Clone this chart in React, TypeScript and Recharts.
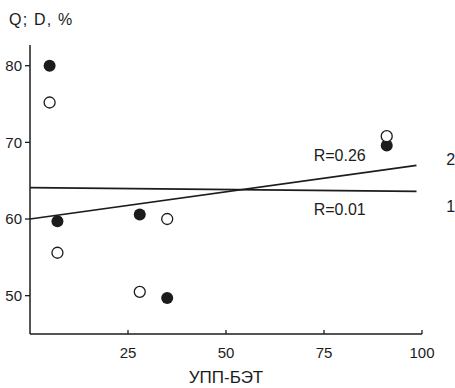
import React from "react";
import {
  ComposedChart,
  Scatter,
  XAxis,
  YAxis,
  ReferenceDot,
  Label,
} from "recharts";

// measured points (x = УПП-БЭТ, y = Q or D, %)
const xPoints = [5, 7, 28, 35, 91];
const yFilled = [80, 59.7, 60.6, 49.7, 69.6];
const yOpen = [75.2, 55.6, 50.5, 60.0, 70.8];

// regression lines: 1 (R=0.01) and 2 (R=0.26)
const lineX = [0, 98.6];
const line1Y = [64.1, 63.6];
const line2Y = [60.0, 67.0];

const xTicks = [25, 50, 75, 100];
const yTicks = [50, 60, 70, 80];

const annotations = [
  { text: "R=0.26", x: 79, y: 68.3 },
  { text: "R=0.01", x: 79, y: 61.2 },
  { text: "2", x: 107.3, y: 67.8 },
  { text: "1", x: 107.3, y: 61.7 },
];

const FONT = "'Liberation Sans', Arial, sans-serif";
const INK = "#1c1c1c";

const filledData = xPoints.map((x, i) => ({ x, y: yFilled[i] }));
const openData = xPoints.map((x, i) => ({ x, y: yOpen[i] }));
const line1Data = lineX.map((x, i) => ({ x, y: line1Y[i] }));
const line2Data = lineX.map((x, i) => ({ x, y: line2Y[i] }));

const XTick = (props: any) => {
  const { x, y, payload } = props;
  return (
    <g>
      <line x1={x} x2={x} y1={y} y2={y - 4} stroke={INK} strokeWidth={1.3} />
      <text
        x={x}
        y={y + 24}
        textAnchor="middle"
        fill={INK}
        fontSize={15}
        fontFamily={FONT}
      >
        {payload.value}
      </text>
    </g>
  );
};

const FilledDot = (props: any) => (
  <circle cx={props.cx} cy={props.cy} r={6} fill={INK} />
);

const OpenDot = (props: any) => (
  <circle
    cx={props.cx}
    cy={props.cy}
    r={5.5}
    fill="#fff"
    stroke={INK}
    strokeWidth={1.3}
  />
);

const NoDot = () => <g />;

export default function App() {
  return (
    <div
      style={{
        position: "absolute",
        left: 0,
        top: 0,
        width: 455,
        height: 388,
        background: "#fff",
      }}
    >
      <div
        style={{
          position: "absolute",
          left: 9,
          top: 11,
          fontFamily: FONT,
          fontSize: 16,
          letterSpacing: 1.2,
          color: INK,
          lineHeight: "18px",
        }}
      >
        Q; D, %
      </div>
      <ComposedChart
        width={455}
        height={388}
        margin={{ top: 45, right: 33, bottom: 0, left: 0 }}
      >
        <XAxis
          type="number"
          dataKey="x"
          domain={[0, 100]}
          ticks={xTicks}
          tickSize={0}
          tickMargin={0}
          tickLine={false}
          tick={<XTick />}
          height={54}
          axisLine={{ stroke: INK, strokeWidth: 1.5 }}
        >
          <Label
            value="УПП-БЭТ"
            position="insideBottom"
            offset={5}
            fill={INK}
            fontSize={17}
            fontFamily={FONT}
          />
        </XAxis>
        <YAxis
          type="number"
          dataKey="y"
          domain={[45, 82.7]}
          ticks={yTicks}
          width={30}
          tickSize={5}
          tickMargin={3}
          tickLine={{ stroke: INK, strokeWidth: 1.3 }}
          axisLine={{ stroke: INK, strokeWidth: 1.5 }}
          tick={{ fill: INK, fontSize: 15, fontFamily: FONT }}
        />
        <Scatter
          data={line1Data}
          dataKey="y"
          line={{ stroke: INK, strokeWidth: 1.6 }}
          shape={<NoDot />}
          isAnimationActive={false}
        />
        <Scatter
          data={line2Data}
          dataKey="y"
          line={{ stroke: INK, strokeWidth: 1.6 }}
          shape={<NoDot />}
          isAnimationActive={false}
        />
        <Scatter
          data={filledData}
          dataKey="y"
          shape={<FilledDot />}
          isAnimationActive={false}
        />
        <Scatter
          data={openData}
          dataKey="y"
          shape={<OpenDot />}
          isAnimationActive={false}
        />
        {annotations.map((a) => (
          <ReferenceDot
            key={a.text}
            x={a.x}
            y={a.y}
            r={0}
            ifOverflow="visible"
            fill="none"
            stroke="none"
          >
            <Label
              value={a.text}
              position="center"
              fill={INK}
              fontSize={16}
              fontFamily={FONT}
            />
          </ReferenceDot>
        ))}
      </ComposedChart>
    </div>
  );
}
